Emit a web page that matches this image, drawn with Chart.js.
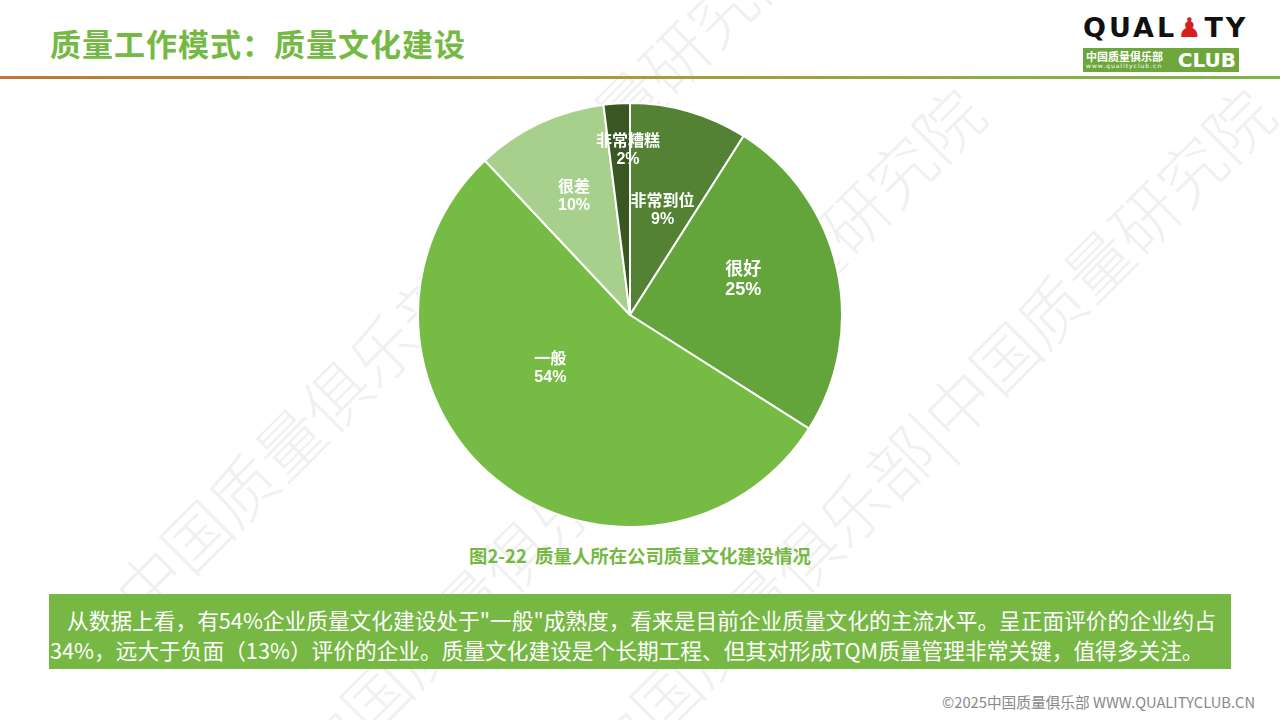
<!DOCTYPE html>
<html>
<head>
<meta charset="utf-8">
<script src="https://cdn.jsdelivr.net/npm/chart.js@4/dist/chart.umd.min.js"></script>
<style>
  body { margin: 0; width: 1280px; height: 720px; position: relative; background: #fff; overflow: hidden;
         font-family: "Noto Sans CJK SC", "Noto Sans", sans-serif; }
  .title { position: absolute; left: 50px; top: 20px; font-size: 31px; font-weight: bold; color: #74B943; letter-spacing: 1px; }
  .rule { position: absolute; left: 0; top: 76px; width: 1280px; height: 3px;
          background: linear-gradient(to right, #C0763D 0%, #A99C3A 50%, #7AB648 100%); }
  .logo { position: absolute; left: 1083px; top: 12px; width: 157px; height: 62px; }
  .logo .word { position: absolute; left: 0; top: 0; font-family: "DejaVu Sans", sans-serif; font-weight: bold;
                font-size: 27px; letter-spacing: 3px; color: #111; }
  .logo .box { position: absolute; left: 0; top: 36px; width: 156px; height: 24px; background: #6DA73C; }
  .logo .cn { position: absolute; left: 3px; top: 0px; font-size: 11px; color: #fff; font-weight: bold; font-family: "Noto Sans CJK SC", serif; }
  .logo .url { position: absolute; left: 3px; top: 14px; font-size: 6px; color: #fff; letter-spacing: 1px; font-family: "DejaVu Sans", sans-serif; }
  .logo .club { position: absolute; right: 3px; top: 1px; font-size: 20px; font-weight: bold; color: #fff; font-family: "DejaVu Sans", sans-serif; line-height: 22px; }
  #wrap { position: absolute; left: 415px; top: 100px; width: 430px; height: 430px; }
  .caption { position: absolute; left: 0; width: 1280px; top: 542px; text-align: center; font-size: 18.4px; font-weight: bold; color: #74B943; }
  .note { position: absolute; left: 49px; top: 594px; width: 1182px; height: 75px; background: #76B843; }
  .note div { position: absolute; color: #fff; font-size: 21.7px; line-height: 30px; white-space: nowrap; }
  .footer { position: absolute; right: 25px; top: 691px; font-size: 14.7px; color: #888; }
  .wm { position: absolute; color: rgba(0,0,0,0.06); font-size: 66px; white-space: nowrap; transform-origin: 0 0; transform: rotate(-45deg); font-family: "Noto Sans CJK SC", serif; font-weight: 300; }
</style>
</head>
<body>
<div class="wm" style="left:90px; top:570px;">中国质量俱乐部|中国质量研究院</div>
<div class="wm" style="left:270px; top:730px;">中国质量俱乐部|中国质量研究院</div>
<div class="wm" style="left:560px; top:730px;">中国质量俱乐部|中国质量研究院</div>
<div class="title">质量工作模式：质量文化建设</div>
<div class="rule"></div>
<div class="logo">
  <div class="word">QUAL<span style="color:#D42020">♟</span>TY</div>
  <div class="box">
    <div class="cn">中国质量俱乐部</div>
    <div class="url">www.qualityclub.cn</div>
    <div class="club">CLUB</div>
  </div>
</div>
<div id="wrap"><canvas id="pie"></canvas></div>
<div class="caption">图2-22&nbsp; 质量人所在公司质量文化建设情况</div>
<div class="note">
  <div style="left:18px; top:11px;">从数据上看，有54%企业质量文化建设处于"一般"成熟度，看来是目前企业质量文化的主流水平。呈正面评价的企业约占</div>
  <div style="left:1px; top:41px;">34%，远大于负面（13%）评价的企业。质量文化建设是个长期工程、但其对形成TQM质量管理非常关键，值得多关注。</div>
</div>
<div class="footer">©2025中国质量俱乐部 WWW.QUALITYCLUB.CN</div>

<script>
// data
const categories = ['非常到位', '很好', '一般', '很差', '非常糟糕'];
const shares = [9, 25, 54, 10, 2];
const sliceColors = ['#548235', '#63A53B', '#76BC44', '#A8D08D', '#385723'];

// label placement: fraction of radius, angle nudge (degrees), font size
const labelPlace = [
  { r: 0.52, da: 1, size: 16 },
  { r: 0.56, da: -5, size: 18 },
  { r: 0.45, da: 17, size: 16 },
  { r: 0.62, da: 0, size: 16 },
  { r: 0.78, da: 2.9, size: 16 },
];

const sliceLabels = {
  id: 'sliceLabels',
  afterDatasetsDraw(chart) {
    const ctx = chart.ctx;
    const meta = chart.getDatasetMeta(0);
    meta.data.forEach((arc, i) => {
      const p = labelPlace[i];
      const mid = (arc.startAngle + arc.endAngle) / 2 + p.da * Math.PI / 180;
      const r = arc.outerRadius * p.r;
      const x = arc.x + Math.cos(mid) * r;
      const y = arc.y + Math.sin(mid) * r;
      ctx.save();
      ctx.fillStyle = '#fff';
      ctx.textAlign = 'center';
      ctx.textBaseline = 'middle';
      ctx.font = 'bold ' + p.size + 'px "Noto Sans CJK SC", sans-serif';
      ctx.fillText(categories[i], x, y - p.size * 0.62);
      ctx.font = 'bold ' + p.size + 'px "Liberation Sans", Arial, sans-serif';
      ctx.fillText(shares[i] + '%', x, y + p.size * 0.62);
      ctx.restore();
    });
  }
};

new Chart(document.getElementById('pie'), {
  type: 'pie',
  data: {
    labels: categories,
    datasets: [{
      data: shares,
      backgroundColor: sliceColors,
      borderColor: '#ffffff',
      borderWidth: 2,
    }],
  },
  options: {
    responsive: true,
    maintainAspectRatio: false,
    animation: false,
    layout: { padding: 2 },
    plugins: {
      legend: { display: false },
      tooltip: { enabled: false },
    },
  },
  plugins: [sliceLabels],
});
</script>
</body>
</html>
